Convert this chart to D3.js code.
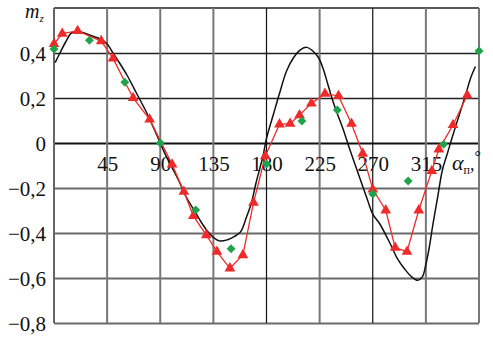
<!DOCTYPE html>
<html>
<head>
<meta charset="utf-8">
<script src="https://cdn.jsdelivr.net/npm/d3@7"></script>
<style>
  html, body { margin: 0; padding: 0; background: #fff; }
</style>
</head>
<body>
<div id="chart"></div>
<script>
// angle (deg) and m_z values
var calcDeg = [1, 5, 10, 15, 22, 30, 40, 45, 50, 55, 62, 70, 78, 85, 90, 96, 105, 112, 120, 127, 133, 140, 147, 153, 158, 163, 167, 171, 175, 177, 180, 186, 191, 197, 203, 209, 214, 219, 224, 228, 232, 236, 240, 245, 250, 256, 262, 266, 270, 276, 285, 291, 297, 303, 308, 312, 315, 318, 321, 325, 329, 333, 337, 343, 349, 353, 357];
var calcVal = [0.357, 0.40, 0.45, 0.49, 0.495, 0.48, 0.46, 0.44, 0.40, 0.36, 0.30, 0.22, 0.14, 0.06, 0.0, -0.07, -0.16, -0.24, -0.31, -0.37, -0.41, -0.435, -0.43, -0.415, -0.395, -0.33, -0.27, -0.18, -0.10, -0.06, 0.02, 0.13, 0.22, 0.32, 0.38, 0.415, 0.425, 0.41, 0.38, 0.33, 0.26, 0.19, 0.13, 0.06, -0.02, -0.11, -0.20, -0.26, -0.316, -0.36, -0.45, -0.515, -0.56, -0.595, -0.61, -0.595, -0.54, -0.46, -0.36, -0.24, -0.12, -0.05, 0.02, 0.12, 0.22, 0.29, 0.34];

var redDeg = [0, 7, 20, 40, 50, 67, 81, 100, 110, 118, 129, 138, 149, 160, 169, 179, 191, 200, 208, 218, 229.5, 241, 252, 261.5, 270, 281, 289, 299, 309, 320, 326, 338, 350];
var redVal = [0.44, 0.486, 0.498, 0.453, 0.376, 0.20, 0.105, -0.095, -0.216, -0.324, -0.409, -0.483, -0.557, -0.498, -0.265, -0.058, 0.083, 0.086, 0.124, 0.176, 0.219, 0.209, 0.086, -0.047, -0.206, -0.299, -0.465, -0.483, -0.299, -0.124, -0.028, 0.08, 0.212];

var greenDeg = [0, 30, 60, 90, 120, 150, 180, 210, 240, 270, 300, 330, 360];
var greenVal = [0.418, 0.457, 0.27, 0.0, -0.298, -0.47, -0.093, 0.098, 0.147, -0.227, -0.169, -0.006, 0.409];

var xTicks = [45, 90, 135, 180, 225, 270, 315];
var xGrid = [45, 90, 135, 180, 225, 270, 315, 360];
var yTicks = [0.4, 0.2, 0, -0.2, -0.4, -0.6, -0.8];

var SERIF = '"Liberation Serif", "DejaVu Serif", serif';
var W = 493, H = 337;
var svg = d3.select('#chart').append('svg')
    .attr('width', W)
    .attr('height', H)
    .attr('font-family', SERIF);

var x = d3.scaleLinear().domain([0, 360]).range([54, 479]);
var y = d3.scaleLinear().domain([-0.8, 0.6]).range([323, 8]);

var fmt = function (d) {
    if (d === 0) return '0';
    return (d < 0 ? '\u2212' : '') + d3.format('.1f')(Math.abs(d)).replace('.', ',');
};

// horizontal grid (upper part dark, lower part grey like the scan)
var yAxis = svg.append('g')
    .attr('transform', 'translate(' + x(0) + ',0)')
    .call(d3.axisLeft(y).tickValues(yTicks).tickSize(-(x(360) - x(0))).tickPadding(8).tickFormat(fmt))
    .attr('font-family', SERIF)
    .attr('font-size', 21);
yAxis.select('.domain').remove();
yAxis.selectAll('.tick line')
    .attr('stroke', function (d) { return d > 0 ? '#222' : (d === 0 ? '#111' : '#6a6a6a'); })
    .attr('stroke-width', function (d) { return d === 0 ? 2.2 : (d > 0 ? 1.4 : 2); });
yAxis.selectAll('.tick text')
    .attr('fill', '#111')
    .attr('dy', '0.35em');

// top border at 0.6
svg.append('line')
    .attr('x1', x(0)).attr('x2', x(360))
    .attr('y1', y(0.6)).attr('y2', y(0.6))
    .attr('stroke', '#222').attr('stroke-width', 1.4);

// vertical grid
svg.append('g').selectAll('line').data(xGrid)
    .join('line')
    .attr('x1', function (d) { return x(d); })
    .attr('x2', function (d) { return x(d); })
    .attr('y1', y(0.6)).attr('y2', y(-0.8))
    .attr('stroke', function (d) { return (d === 180 || d === 270) ? '#111' : '#777'; })
    .attr('stroke-width', function (d) { return (d === 180 || d === 270) ? 1.2 : 2; });

// left axis line
svg.append('line')
    .attr('x1', x(0)).attr('x2', x(0))
    .attr('y1', y(0.6)).attr('y2', y(-0.8))
    .attr('stroke', '#666').attr('stroke-width', 2);

// x labels sit just under the zero line
var xAxis = svg.append('g')
    .attr('transform', 'translate(0,' + y(0) + ')')
    .call(d3.axisBottom(x).tickValues(xTicks).tickSize(0).tickPadding(13))
    .attr('font-family', SERIF)
    .attr('font-size', 21);
xAxis.select('.domain').remove();
xAxis.selectAll('.tick text').attr('fill', '#111');

// calculated curve (black)
var calc = calcDeg.map(function (d, i) { return [d, calcVal[i]]; });
svg.append('path')
    .datum(calc)
    .attr('fill', 'none')
    .attr('stroke', '#111')
    .attr('stroke-width', 1.5)
    .attr('d', d3.line()
        .x(function (d) { return x(d[0]); })
        .y(function (d) { return y(d[1]); })
        .curve(d3.curveCatmullRom));

// experiment (red triangles)
var red = redDeg.map(function (d, i) { return [d, redVal[i]]; });
svg.append('path')
    .datum(red)
    .attr('fill', 'none')
    .attr('stroke', '#ee2a2a')
    .attr('stroke-width', 1.3)
    .attr('d', d3.line()
        .x(function (d) { return x(d[0]); })
        .y(function (d) { return y(d[1]); }));
svg.append('g').selectAll('path').data(red)
    .join('path')
    .attr('d', d3.symbol().type(d3.symbolTriangle).size(50))
    .attr('transform', function (d) { return 'translate(' + x(d[0]) + ',' + y(d[1]) + ')'; })
    .attr('fill', '#f02a2a');

// green diamonds
var green = greenDeg.map(function (d, i) { return [d, greenVal[i]]; });
svg.append('g').selectAll('path').data(green)
    .join('path')
    .attr('d', d3.symbol().type(d3.symbolSquare).size(40))
    .attr('transform', function (d) { return 'translate(' + x(d[0]) + ',' + y(d[1]) + ') rotate(45)'; })
    .attr('fill', '#1ea34a');

// axis titles
var mz = svg.append('text')
    .attr('x', 25).attr('y', 18)
    .attr('fill', '#111')
    .attr('font-size', 20)
    .attr('font-style', 'italic');
mz.append('tspan').text('m');
mz.append('tspan').attr('font-size', 11).attr('dy', 4).text('z');

var al = svg.append('text')
    .attr('x', 452).attr('y', 170)
    .attr('fill', '#111')
    .attr('font-size', 22)
    .attr('font-style', 'italic');
al.append('tspan').text('\u03b1');
al.append('tspan').attr('font-size', 12).attr('font-style', 'normal').attr('dy', 4).text('\u043f');
al.append('tspan').attr('font-size', 18).attr('font-style', 'normal').attr('dy', -4).text(',');
al.append('tspan').attr('font-size', 16).attr('font-style', 'normal').attr('dy', -8).text('\u00b0');
</script>
</body>
</html>
